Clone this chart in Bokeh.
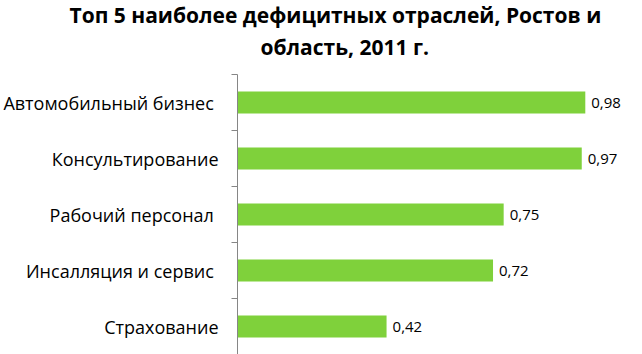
from bokeh.plotting import figure
from bokeh.models import Range1d, FixedTicker, LinearAxis, Title, ColumnDataSource
from bokeh.core.properties import value
from bokeh.embed import file_html
from bokeh.resources import INLINE

title_lines = ["Топ 5 наиболее дефицитных отраслей, Ростов и", "область, 2011 г."]
categories = ["Автомобильный  бизнес", "Консультирование", "Рабочий  персонал",
              "Инсалляция  и сервис", "Страхование"]
values = [0.98, 0.97, 0.75, 0.72, 0.42]

FONT = "Open Sans"
n = len(categories)
ypos = [n - i - 0.5 for i in range(n)]
labels = [f"{v:.2f}".replace(".", ",") for v in values]

src = ColumnDataSource(dict(y=ypos, v=values, lab=labels))

p = figure(width=642, height=354, frame_width=406, frame_height=280,
           x_range=Range1d(0, 1.144), y_range=Range1d(0, n),
           output_backend="svg", toolbar_location=None,
           min_border_left=236, min_border_top=74, min_border_bottom=0, min_border_right=0,
           x_axis_location=None, y_axis_location=None)
p.outline_line_color = None
p.xgrid.visible = False
p.ygrid.visible = False

ax = LinearAxis(ticker=FixedTicker(ticks=ypos, minor_ticks=list(range(n + 1))))
ax.major_label_overrides = {y: c for y, c in zip(ypos, categories)}
ax.major_tick_out = 0
ax.major_tick_in = 0
ax.minor_tick_out = 6
ax.minor_tick_in = 0
ax.axis_line_color = "#868686"
ax.minor_tick_line_color = "#868686"
ax.major_label_standoff = 13
ax.major_label_text_font = FONT
ax.major_label_text_font_size = "18px"
ax.major_label_text_color = "#000000"
p.add_layout(ax, "left")

p.hbar(y="y", right="v", left=0, height=0.39, source=src, color="#7FD13B", line_color=None)
p.text(x="v", y="y", text="lab", source=src, x_offset=6, text_baseline="middle",
       text_align="left", text_font=value(FONT), text_font_size="15px", text_color="#000000")

t2 = Title(text=title_lines[1], align="left", offset=23, text_font=FONT,
           text_font_style="bold", text_font_size="21px", text_color="#000000", standoff=27)
t1 = Title(text=title_lines[0], align="left", offset=-168, text_font=FONT,
           text_font_style="bold", text_font_size="21px", text_color="#000000", standoff=-23)
p.add_layout(t2, "above")
p.add_layout(t1, "above")

open("out.html", "w").write(file_html(p, INLINE))
